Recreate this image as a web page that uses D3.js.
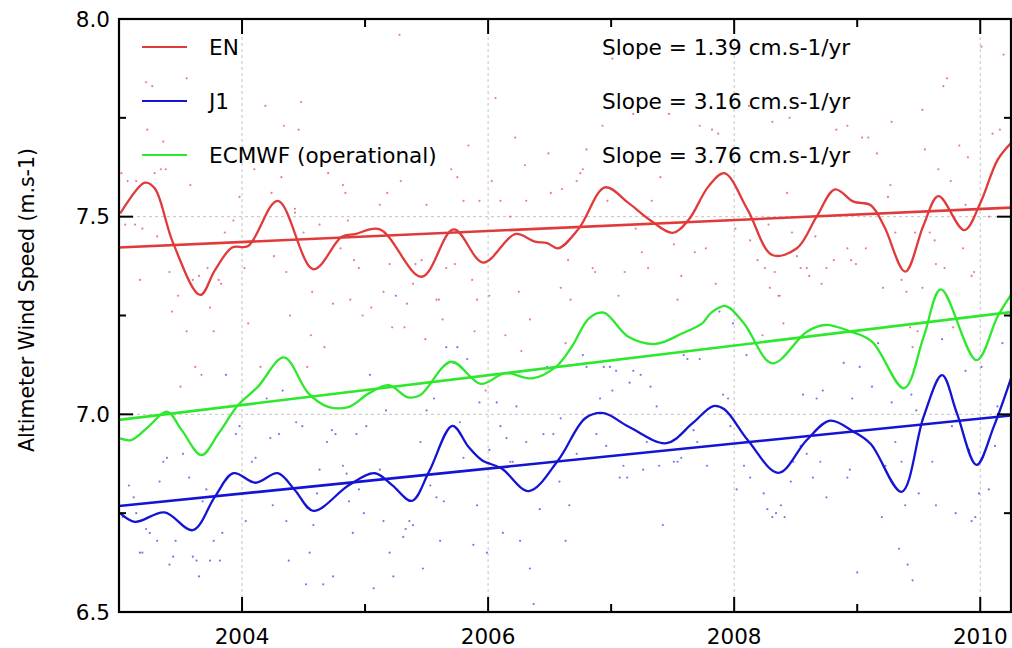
<!DOCTYPE html>
<html>
<head>
<meta charset="utf-8">
<script src="https://cdn.jsdelivr.net/npm/d3@7"></script>
<style>
  body { margin: 0; background: #fff; }
  svg { display: block; font-family: "DejaVu Sans", sans-serif; }
</style>
</head>
<body>
<script>
// series names, trend slopes (cm/s per year) and trend value at start of 2003
var seriesNames = ["EN", "J1", "ECMWF (operational)"];
var seriesColors = ["#e03a3a", "#1414d2", "#2ee82e"];
var slopes = [1.39, 3.16, 3.76];
var trendStart = [7.422, 6.768, 6.986];

var xTicks = [2003, 2004, 2005, 2006, 2007, 2008, 2009, 2010];
var xLabels = [2004, 2006, 2008, 2010];
var yTicks = [6.5, 6.75, 7.0, 7.25, 7.5, 7.75, 8.0];
var yLabels = [6.5, 7.0, 7.5, 8.0];

// smoothed series [year, m/s]
var enCurve = [[2003.01,7.508],[2003.21,7.586],[2003.29,7.572],[2003.44,7.433],[2003.66,7.302],[2003.78,7.365],
  [2003.92,7.422],[2004.05,7.426],[2004.29,7.540],[2004.58,7.367],[2004.81,7.449],[2004.92,7.456],[2005.12,7.468],
  [2005.46,7.348],[2005.72,7.468],[2005.96,7.384],[2006.22,7.456],[2006.38,7.437],[2006.48,7.433],[2006.57,7.420],
  [2006.74,7.471],[2006.95,7.574],[2007.14,7.535],[2007.31,7.493],[2007.50,7.459],[2007.63,7.492],[2007.79,7.576],
  [2007.92,7.610],[2008.11,7.517],[2008.31,7.403],[2008.51,7.420],[2008.67,7.500],[2008.82,7.569],[2008.97,7.538],
  [2009.11,7.529],[2009.22,7.475],[2009.39,7.361],[2009.54,7.479],[2009.66,7.552],[2009.87,7.466],[2010.00,7.534],
  [2010.14,7.643],[2010.25,7.686]];

var j1Curve = [[2003.01,6.750],[2003.13,6.728],[2003.37,6.752],[2003.60,6.707],[2003.78,6.792],[2003.93,6.851],
  [2004.11,6.827],[2004.29,6.851],[2004.43,6.808],[2004.58,6.756],[2004.87,6.821],[2005.08,6.851],[2005.22,6.821],
  [2005.38,6.781],[2005.52,6.855],[2005.71,6.971],[2005.84,6.918],[2005.95,6.884],[2006.11,6.863],[2006.33,6.806],
  [2006.57,6.884],[2006.79,6.990],[2006.94,7.003],[2007.14,6.969],[2007.45,6.927],[2007.66,6.977],[2007.83,7.021],
  [2007.92,7.013],[2008.11,6.935],[2008.36,6.852],[2008.59,6.935],[2008.78,6.984],[2008.97,6.956],[2009.11,6.925],
  [2009.36,6.804],[2009.54,6.994],[2009.69,7.099],[2009.81,7.003],[2009.97,6.872],[2010.11,6.969],[2010.25,7.091]];

var ecCurve = [[2003.01,6.939],[2003.10,6.935],[2003.24,6.969],[2003.39,7.007],[2003.51,6.960],[2003.67,6.897],
  [2003.81,6.952],[2003.97,7.024],[2004.13,7.070],[2004.34,7.144],[2004.54,7.053],[2004.70,7.019],[2004.87,7.019],
  [2005.03,7.053],[2005.19,7.074],[2005.35,7.043],[2005.45,7.049],[2005.70,7.133],[2005.94,7.077],[2006.14,7.104],
  [2006.36,7.091],[2006.55,7.120],[2006.68,7.171],[2006.82,7.243],[2006.94,7.257],[2007.14,7.196],[2007.36,7.178],
  [2007.58,7.205],[2007.74,7.230],[2007.81,7.256],[2007.93,7.274],[2008.08,7.230],[2008.31,7.129],[2008.59,7.209],
  [2008.74,7.226],[2008.95,7.209],[2009.12,7.184],[2009.38,7.066],[2009.54,7.196],[2009.68,7.316],[2009.97,7.137],
  [2010.14,7.247],[2010.25,7.302]];

// individual EN samples [year, m/s]
var enDots = [[2003.22,7.84],[2003.27,7.83],[2003.55,7.85],[2003.23,7.72],[2003.36,7.69],[2004.19,7.78],[2004.48,7.79],
  [2004.34,7.73],[2004.46,7.72],[2004.32,7.60],[2004.10,7.62],[2004.70,7.61],[2003.02,7.61],[2003.07,7.59],[2003.14,7.59],
  [2003.29,7.61],[2003.34,7.62],[2003.38,7.62],[2003.58,7.58],[2003.98,7.55],[2004.24,7.56],[2004.43,7.52],[2005.28,7.96],
  [2005.84,7.68],[2006.06,7.80],[2006.22,7.70],[2006.30,7.63],[2006.49,7.66],[2006.80,7.67],[2006.93,7.73],[2007.18,7.76],
  [2007.01,7.90],[2007.47,7.76],[2005.70,7.62],[2005.75,7.60],[2005.18,7.56],[2005.29,7.59],[2005.12,7.53],[2005.50,7.53],
  [2005.80,7.54],[2005.93,7.54],[2006.03,7.59],[2006.10,7.54],[2006.31,7.54],[2006.51,7.56],[2006.60,7.57],[2006.72,7.59],
  [2006.75,7.61],[2006.77,7.62],[2006.97,7.54],[2007.33,7.54],[2007.40,7.60],[2004.82,7.58],[2004.84,7.56],[2010.01,7.93],
  [2010.19,7.91],[2009.73,7.85],[2009.70,7.83],[2009.53,7.77],[2009.28,7.74],[2009.09,7.70],[2009.04,7.70],[2009.16,7.66],
  [2008.92,7.73],[2008.83,7.72],[2008.45,7.75],[2008.31,7.74],[2008.12,7.78],[2007.72,7.73],[2007.82,7.72],[2007.87,7.71],
  [2009.55,7.67],[2009.83,7.68],[2009.90,7.65],[2010.10,7.71],[2010.16,7.72],[2009.66,7.62],[2009.76,7.59],[2009.27,7.58],
  [2008.43,7.56],[2009.25,7.55],[2009.88,7.53],
  [2003.05,7.48],[2003.13,7.48],[2003.19,7.47],[2003.31,7.45],[2003.41,7.36],[2003.17,7.34],[2003.48,7.30],[2003.43,7.26],
  [2003.60,7.34],[2003.65,7.35],[2003.72,7.37],[2003.74,7.27],[2003.81,7.34],[2003.83,7.33],[2003.77,7.21],[2003.55,7.21],
  [2003.62,7.12],[2003.67,7.10],[2003.50,7.07],[2003.86,7.46],[2003.93,7.49],[2004.02,7.37],[2004.05,7.23],[2004.26,7.40],
  [2004.36,7.36],[2004.39,7.25],[2004.57,7.31],[2004.56,7.20],[2004.67,7.17],[2004.74,7.28],[2004.50,7.46],[2004.63,7.48],
  [2004.15,7.12],[2004.53,7.12],[2004.43,7.51],
  [2004.86,7.49],[2004.80,7.42],[2004.91,7.39],[2004.95,7.37],[2005.20,7.38],[2005.39,7.33],[2005.41,7.38],[2005.46,7.39],
  [2005.15,7.31],[2004.88,7.29],[2005.05,7.27],[2004.98,7.25],[2005.34,7.28],[2005.22,7.22],[2005.32,7.22],[2005.49,7.19],
  [2005.58,7.29],[2005.60,7.29],[2005.63,7.24],[2005.66,7.37],[2005.73,7.38],[2005.87,7.34],[2005.91,7.29],[2005.89,7.21],
  [2006.01,7.30],[2006.25,7.31],[2006.14,7.20],[2006.27,7.16],[2006.59,7.32],[2006.65,7.39],[2006.67,7.29],[2006.63,7.18],
  [2006.85,7.37],[2006.87,7.36],[2007.11,7.36],[2007.25,7.41],[2007.30,7.37],[2007.06,7.30],[2006.34,7.24],[2006.18,7.50],
  [2007.20,7.47],[2005.98,7.06],
  [2007.51,7.43],[2007.68,7.41],[2007.77,7.42],[2007.57,7.35],[2007.85,7.33],[2007.54,7.29],[2008.01,7.47],[2008.13,7.44],
  [2008.28,7.48],[2008.47,7.46],[2008.19,7.39],[2008.25,7.37],[2008.33,7.36],[2008.54,7.37],[2008.59,7.37],[2008.61,7.35],
  [2008.71,7.33],[2008.75,7.37],[2008.81,7.39],[2008.66,7.45],[2008.51,7.40],[2008.29,7.32],[2008.36,7.30],[2008.37,7.30],
  [2008.40,7.23],[2008.23,7.20],[2008.92,7.42],[2008.95,7.39],[2008.99,7.38],[2009.07,7.42],[2009.21,7.32],[2009.31,7.46],
  [2009.36,7.34],[2009.40,7.31],[2009.47,7.46],[2009.59,7.46],[2009.63,7.44],[2009.64,7.38],[2009.71,7.37],[2009.53,7.32],
  [2009.86,7.42],[2009.93,7.35],[2009.95,7.36],[2009.78,7.22],[2009.43,7.22],[2009.49,7.21],[2009.45,7.17],[2010.07,7.50]];

// individual J1 samples [year, m/s]
var j1Dots = [[2003.87,7.10],[2004.33,7.06],[2004.20,7.04],[2005.25,7.30],[2005.66,7.17],[2005.75,7.17],[2005.04,7.10],
  [2005.72,7.13],[2005.83,7.14],[2005.56,7.04],[2005.93,7.03],[2006.07,7.03],[2005.17,7.01],[2005.50,7.01],[2006.23,7.02],
  [2006.48,7.12],[2006.77,7.15],[2006.80,7.12],[2006.94,7.12],[2006.99,7.12],[2007.04,7.11],[2007.18,7.11],[2007.24,7.10],
  [2007.15,7.08],[2007.32,7.07],[2007.01,7.06],[2006.91,7.04],[2007.37,7.02],[2006.59,6.99],
  [2007.59,7.15],[2007.62,7.14],[2007.72,7.14],[2007.88,7.26],[2007.99,7.23],[2008.10,7.15],[2007.91,7.05],[2007.95,7.04],
  [2008.56,7.05],[2008.72,7.06],[2008.67,7.04],[2008.89,7.13],[2009.02,7.12],[2009.17,7.18],[2009.12,7.07],[2008.96,7.04],
  [2009.69,7.19],[2009.88,7.11],[2010.01,7.12],[2010.18,7.18],[2009.28,7.03],[2009.44,7.05],[2009.48,7.01],[2010.14,7.02],
  [2003.08,6.82],[2003.12,6.79],[2003.03,6.74],[2003.14,6.75],[2003.22,6.71],[2003.25,6.70],[2003.33,6.83],[2003.36,6.88],
  [2003.39,6.89],[2003.52,6.90],[2003.57,6.84],[2003.31,6.68],[2003.17,6.65],[2003.19,6.65],[2003.44,6.64],[2003.41,6.62],
  [2003.46,6.68],[2003.60,6.64],[2003.63,6.63],[2003.65,6.59],[2003.74,6.63],[2003.82,6.63],[2003.77,6.68],[2003.84,6.70],
  [2003.71,6.81],[2003.68,6.78],[2003.95,6.95],[2003.98,6.97],[2004.08,6.88],[2004.11,6.89],[2004.03,6.73],[2004.25,6.77],
  [2004.36,6.73],[2004.38,6.63],[2004.23,6.94],[2004.30,6.95],[2004.44,6.98],[2004.49,6.97],[2004.61,6.80],[2004.58,6.72],
  [2004.55,6.65],[2004.63,6.86],[2004.52,6.57],[2004.66,6.57],[2004.74,6.59],[2004.69,6.93],[2004.73,6.96],[2004.76,6.95],
  [2004.93,6.95],[2005.01,6.97],[2004.82,6.87],[2004.85,6.85],[2004.95,6.81],[2004.87,6.78],[2004.90,6.70],[2004.99,6.75],
  [2005.12,6.86],[2005.15,6.73],[2005.20,6.65],[2005.23,6.59],[2005.07,6.56],[2005.33,6.71],[2005.36,6.73],[2005.39,6.72],
  [2005.31,6.69],[2005.45,6.93],[2005.47,6.61],[2005.53,6.82],[2005.58,6.79],[2005.64,6.78],[2005.61,6.68],[2005.77,6.98],
  [2005.80,6.89],[2005.88,6.67],[2005.91,6.77],[2005.99,6.65],[2006.01,6.91],[2006.10,6.97],[2006.15,6.94],[2006.18,6.88],
  [2006.20,6.88],[2006.12,6.70],[2006.26,6.68],[2006.31,6.93],[2006.34,6.61],[2006.37,6.52],[2006.42,6.76],[2006.45,6.95],
  [2006.53,6.95],[2006.58,6.83],[2006.66,6.77],[2006.63,6.68],[2006.72,6.90],[2006.88,6.95],[2006.96,6.92],[2007.07,6.84],
  [2007.10,6.87],[2007.13,6.84],[2007.26,6.86],[2007.39,6.87],[2007.42,6.72],[2007.29,6.93],
  [2007.51,6.88],[2007.54,6.88],[2007.57,6.89],[2007.67,6.96],[2007.70,6.93],[2007.78,6.87],[2007.97,6.97],[2008.02,6.81],
  [2008.08,6.87],[2008.13,6.84],[2008.24,6.80],[2008.27,6.76],[2008.31,6.74],[2008.34,6.75],[2008.38,6.77],[2008.41,6.74],
  [2008.46,6.83],[2008.48,6.88],[2008.54,6.92],[2008.59,6.90],[2008.64,6.84],[2008.70,6.88],[2008.75,6.79],[2008.92,6.84],
  [2008.94,6.86],[2009.00,6.60],[2009.20,6.74],[2009.23,6.87],[2009.31,6.93],[2009.34,6.66],[2009.36,6.88],[2009.39,6.77],
  [2009.41,6.62],[2009.45,6.58],[2009.50,6.80],[2009.61,6.88],[2009.64,6.77],[2009.77,6.97],[2009.80,6.75],[2009.91,6.91],
  [2009.93,6.73],[2009.96,6.74],[2009.99,6.80],[2010.07,6.81],[2010.12,6.92]];

var width = 1012, height = 648;
var margin = {top: 19, right: 1, bottom: 36, left: 119};

var svg = d3.select("body").append("svg")
    .attr("width", width)
    .attr("height", height);

var x = d3.scaleLinear().domain([2003, 2010.25]).range([margin.left, width - margin.right]);
var y = d3.scaleLinear().domain([6.5, 8.0]).range([height - margin.bottom, margin.top]);

svg.append("defs").append("clipPath").attr("id", "plot")
  .append("rect")
    .attr("x", x.range()[0]).attr("y", y.range()[1])
    .attr("width", x.range()[1] - x.range()[0])
    .attr("height", y.range()[0] - y.range()[1]);

// grid
var grid = svg.append("g").attr("stroke", "#c4c4c4").attr("stroke-width", 1).attr("stroke-dasharray", "3,3");
grid.selectAll(".vg").data(xLabels).enter().append("line")
    .attr("x1", d => x(d)).attr("x2", d => x(d))
    .attr("y1", y(8.0)).attr("y2", y(6.5));
grid.selectAll(".hg").data([7.0, 7.5]).enter().append("line")
    .attr("x1", x(2003)).attr("x2", x(2010.25))
    .attr("y1", d => y(d)).attr("y2", d => y(d));

var plot = svg.append("g").attr("clip-path", "url(#plot)");

// scattered samples
plot.selectAll(".endot").data(enDots).enter().append("circle")
    .attr("cx", d => x(d[0])).attr("cy", d => y(d[1]))
    .attr("r", 1.1)
    .attr("fill", "#e0506e").attr("opacity", 0.75);
plot.selectAll(".j1dot").data(j1Dots).enter().append("circle")
    .attr("cx", d => x(d[0])).attr("cy", d => y(d[1]))
    .attr("r", 1.1)
    .attr("fill", "#4a4ae0").attr("opacity", 0.75);

var line = d3.line()
    .x(d => x(d[0]))
    .y(d => y(d[1]))
    .curve(d3.curveCatmullRom.alpha(0.5));

var curves = [enCurve, j1Curve, ecCurve];
curves.forEach(function(c, i) {
    plot.append("path")
        .datum(c)
        .attr("d", line)
        .attr("fill", "none")
        .attr("stroke", seriesColors[i])
        .attr("stroke-width", 2.3);
});

// linear trends
seriesNames.forEach(function(n, i) {
    var pts = [2003, 2010.25].map(function(t) {
        return [t, trendStart[i] + slopes[i] / 100 * (t - 2003)];
    });
    plot.append("path")
        .datum(pts)
        .attr("d", d3.line().x(d => x(d[0])).y(d => y(d[1])))
        .attr("stroke", seriesColors[i])
        .attr("stroke-width", 2.6);
});

// frame
svg.append("rect")
    .attr("x", x(2003)).attr("y", y(8.0))
    .attr("width", x(2010.25) - x(2003))
    .attr("height", y(6.5) - y(8.0))
    .attr("fill", "none")
    .attr("stroke", "#000")
    .attr("stroke-width", 2.2);

// ticks (inside, on all four sides)
var ticks = svg.append("g").attr("stroke", "#000").attr("stroke-width", 2);
xTicks.forEach(function(t) {
    var len = (t % 2 === 0) ? 15 : 8;
    ticks.append("line").attr("x1", x(t)).attr("x2", x(t)).attr("y1", y(6.5)).attr("y2", y(6.5) - len);
    ticks.append("line").attr("x1", x(t)).attr("x2", x(t)).attr("y1", y(8.0)).attr("y2", y(8.0) + len);
});
yTicks.forEach(function(v) {
    var len = (Math.round(v * 100) % 50 === 0) ? 14 : 7;
    ticks.append("line").attr("x1", x(2003)).attr("x2", x(2003) + len).attr("y1", y(v)).attr("y2", y(v));
    ticks.append("line").attr("x1", x(2010.25)).attr("x2", x(2010.25) - len).attr("y1", y(v)).attr("y2", y(v));
});

// tick labels
svg.selectAll(".xl").data(xLabels).enter().append("text")
    .attr("x", d => x(d))
    .attr("y", height - 4)
    .attr("text-anchor", "middle")
    .attr("font-size", 21.5)
    .text(d => d);
svg.selectAll(".yl").data(yLabels).enter().append("text")
    .attr("x", margin.left - 9)
    .attr("y", d => y(d))
    .attr("dy", "0.36em")
    .attr("text-anchor", "end")
    .attr("font-size", 21.5)
    .text(d => d.toFixed(1));

svg.append("text")
    .attr("transform", "translate(34,300) rotate(-90)")
    .attr("text-anchor", "middle")
    .attr("font-size", 20.5)
    .text("Altimeter Wind Speed (m.s-1)");

// legend
var legend = svg.append("g");
seriesNames.forEach(function(n, i) {
    var ly = 47 + i * 54;
    legend.append("line")
        .attr("x1", 142).attr("x2", 187)
        .attr("y1", ly).attr("y2", ly)
        .attr("stroke", seriesColors[i]).attr("stroke-width", 2);
    legend.append("text")
        .attr("x", 209).attr("y", ly).attr("dy", "0.36em")
        .attr("font-size", 21.6)
        .text(n);
    legend.append("text")
        .attr("x", 602).attr("y", ly).attr("dy", "0.36em")
        .attr("font-size", 21.6)
        .text("Slope = " + slopes[i].toFixed(2) + " cm.s-1/yr");
});
</script>
</body>
</html>
